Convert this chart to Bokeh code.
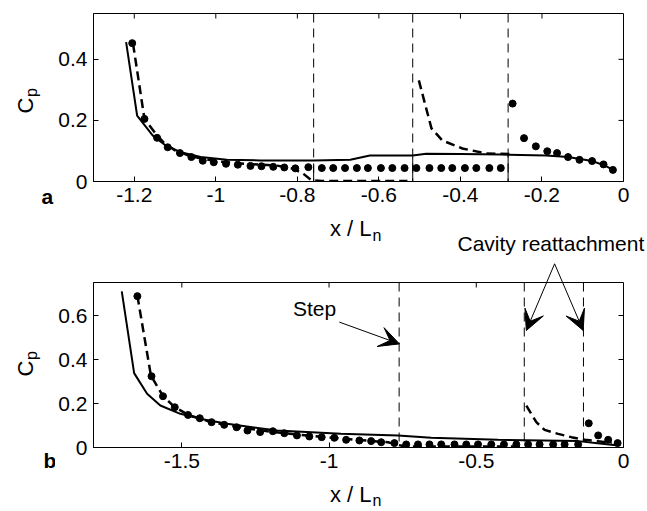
import math
from bokeh.plotting import figure
from bokeh.layouts import column, row
from bokeh.models import Range1d, FixedTicker, Label, Arrow, VeeHead, Span
from bokeh.embed import file_html
from bokeh.resources import INLINE

FONT = "Liberation Sans"
TICK_FS = "21px"
LAB_FS = "22px"
SUB_FS = "16px"
TICK_LEN = 5  # px, inward ticks

# ---------------- panel a data ----------------
a_xrange = (-1.3, 0)
a_yrange = (0, 0.55)
a_xticks = [-1.2, -1, -0.8, -0.6, -0.4, -0.2, 0]
a_xlabels = ["-1.2", "-1", "-0.8", "-0.6", "-0.4", "-0.2", "0"]
a_yticks = [0, 0.2, 0.4]
a_ylabels = ["0", "0.2", "0.4"]

a_solid_x = [-1.220, -1.193, -1.155, -1.123, -1.086, -1.037, -0.973, -0.891, -0.761, -0.670,
             -0.622, -0.517, -0.484, -0.400, -0.300, -0.190, -0.136, -0.077, -0.045, -0.026]
a_solid_y = [0.456, 0.216, 0.151, 0.118, 0.096, 0.080, 0.071, 0.069, 0.069, 0.071,
             0.085, 0.085, 0.091, 0.090, 0.088, 0.085, 0.080, 0.067, 0.052, 0.038]

a_dash1_x = [-1.203, -1.175, -1.147, -1.127, -1.100, -1.060, -1.000, -0.930, -0.850, -0.810,
             -0.785, -0.765, -0.740, -0.530]
a_dash1_y = [0.451, 0.205, 0.156, 0.126, 0.102, 0.082, 0.066, 0.058, 0.052, 0.042,
             0.025, 0.004, 0.002, 0.002]
a_dash2_x = [-0.502, -0.471, -0.444, -0.395, -0.337, -0.280]
a_dash2_y = [0.331, 0.174, 0.134, 0.108, 0.092, 0.090]

a_dot_x = [-1.205, -1.175, -1.144, -1.118, -1.088, -1.060, -1.032, -1.005, -0.975, -0.946,
           -0.915, -0.888, -0.859, -0.832, -0.805, -0.773,
           -0.740, -0.712, -0.683, -0.654, -0.627, -0.595, -0.567, -0.537, -0.508, -0.476,
           -0.447, -0.420, -0.389, -0.361, -0.329, -0.301,
           -0.272, -0.244, -0.215, -0.187, -0.163, -0.136, -0.108, -0.077, -0.049, -0.026]
a_dot_y = [0.453, 0.205, 0.143, 0.112, 0.093, 0.080, 0.068, 0.063, 0.058, 0.055,
           0.051, 0.050, 0.048, 0.046, 0.043, 0.047,
           0.044, 0.044, 0.044, 0.044, 0.044, 0.044, 0.044, 0.044, 0.044, 0.044,
           0.044, 0.044, 0.044, 0.044, 0.044, 0.044,
           0.255, 0.142, 0.115, 0.099, 0.093, 0.080, 0.071, 0.067, 0.056, 0.038]

a_lines = [-0.760, -0.517, -0.283]
a_wall_h = [0.055, 0.080, 0.090]

# ---------------- panel b data ----------------
b_xrange = (-1.8, 0)
b_yrange = (0, 0.75)
b_xticks = [-1.5, -1, -0.5, 0]
b_xlabels = ["-1.5", "-1", "-0.5", "0"]
b_yticks = [0, 0.2, 0.4, 0.6]
b_ylabels = ["0", "0.2", "0.4", "0.6"]

b_solid_x = [-1.704, -1.662, -1.618, -1.573, -1.505, -1.430, -1.346, -1.176, -0.960, -0.850,
             -0.766, -0.653, -0.426, -0.154, -0.080, -0.018]
b_solid_y = [0.710, 0.338, 0.244, 0.191, 0.153, 0.128, 0.108, 0.077, 0.062, 0.058,
             0.055, 0.044, 0.035, 0.029, 0.018, 0.009]

b_dash1_x = [-1.651, -1.605, -1.564, -1.526, -1.481, -1.400, -1.300, -1.200, -1.100, -1.000,
             -0.900, -0.800, -0.760, -0.740, -0.340]
b_dash1_y = [0.690, 0.327, 0.233, 0.186, 0.150, 0.115, 0.092, 0.072, 0.058, 0.046,
             0.034, 0.024, 0.010, 0.005, 0.005]
b_dash2_x = [-0.330, -0.296, -0.268, -0.222, -0.177, -0.131, -0.080, -0.040]
b_dash2_y = [0.190, 0.115, 0.080, 0.062, 0.047, 0.035, 0.027, 0.020]

b_dot_x = [-1.651, -1.603, -1.564, -1.524, -1.479, -1.439, -1.399, -1.356, -1.314, -1.277,
           -1.234, -1.191, -1.152, -1.109, -1.067, -1.025,
           -0.982, -0.942, -0.897, -0.857, -0.823, -0.778,
           -0.738, -0.698, -0.659, -0.619, -0.574, -0.534, -0.494, -0.449, -0.406, -0.364,
           -0.324, -0.285, -0.239, -0.200, -0.154,
           -0.118, -0.086, -0.052, -0.020]
b_dot_y = [0.688, 0.324, 0.233, 0.183, 0.148, 0.133, 0.115, 0.103, 0.092, 0.077,
           0.070, 0.074, 0.065, 0.055, 0.050, 0.047,
           0.044, 0.035, 0.032, 0.029, 0.024, 0.020,
           0.014, 0.014, 0.014, 0.014, 0.014, 0.014, 0.014, 0.014, 0.014, 0.014,
           0.014, 0.014, 0.014, 0.014, 0.014,
           0.110, 0.055, 0.035, 0.020]

b_lines = [-0.762, -0.337, -0.136]

# annotation anchors (panel b data units)
step_label = (-1.1224, 0.633)
step_arrow = (-0.965, 0.570, -0.761, 0.471)
cavity_apex = (-0.234, 0.835)
cavity_tips = [(-0.330, 0.532), (-0.137, 0.532)]

# ---------------- layout geometry (px) ----------------
STRIP_W = 55
MAIN_W = 592
BORDER_L, BORDER_R = 38, 24
FRAME_W = MAIN_W - BORDER_L - BORDER_R          # 530
A_TOP, A_FRAME_H, A_BOTTOM = 13, 168, 34
B_TOP, B_FRAME_H, B_BOTTOM = 0, 165, 32
BAND_H = 67
FOOT_H = 31
A_H = A_TOP + A_FRAME_H + A_BOTTOM
B_H = B_TOP + B_FRAME_H + B_BOTTOM
BAND_Y0 = A_H
B_Y0 = BAND_Y0 + BAND_H
FOOT_Y0 = B_Y0 + B_H
TOTAL_H = FOOT_Y0 + FOOT_H


def style_axis(ax, ticks, labels):
    ax.ticker = FixedTicker(ticks=ticks)
    ax.major_label_overrides = {t: l for t, l in zip(ticks, labels)}
    ax.axis_line_color = "black"
    ax.axis_line_width = 1
    ax.major_tick_in = TICK_LEN
    ax.major_tick_out = 0
    ax.major_tick_line_color = "black"
    ax.minor_tick_in = 0
    ax.minor_tick_out = 0
    ax.minor_tick_line_color = None
    ax.major_label_text_font = FONT
    ax.major_label_text_font_size = TICK_FS
    ax.major_label_text_color = "black"
    ax.major_label_standoff = 6


def make_fig(top, frame_h, bottom, xr, yr, xt, xl, yt, yl):
    p = figure(width=MAIN_W, height=top + frame_h + bottom,
               x_range=Range1d(*xr), y_range=Range1d(*yr),
               output_backend="svg", toolbar_location=None,
               min_border_left=BORDER_L, min_border_right=BORDER_R,
               min_border_top=top, min_border_bottom=bottom)
    p.title.visible = False
    p.xgrid.visible = False
    p.ygrid.visible = False
    p.outline_line_color = "black"
    p.outline_line_alpha = 1
    p.background_fill_color = "white"
    p.border_fill_color = "white"
    style_axis(p.xaxis[0], xt, xl)
    style_axis(p.yaxis[0], yt, yl)
    # inward ticks on the top and right edges of the box
    dy = TICK_LEN * (yr[1] - yr[0]) / frame_h
    dx = TICK_LEN * (xr[1] - xr[0]) / FRAME_W
    tx = [t for t in xt if xr[0] < t < xr[1]]
    ty = [t for t in yt if yr[0] < t < yr[1]]
    p.segment(x0=tx, y0=[yr[1]] * len(tx), x1=tx, y1=[yr[1] - dy] * len(tx),
              line_color="black", line_width=1)
    p.segment(x0=[xr[1]] * len(ty), y0=ty, x1=[xr[1] - dx] * len(ty), y1=ty,
              line_color="black", line_width=1)
    return p


def text_canvas(x0, y0, w, h):
    # a bare canvas whose data coordinates are page pixels (y downward)
    f = figure(width=w, height=h, x_range=Range1d(x0, x0 + w), y_range=Range1d(y0 + h, y0),
               output_backend="svg", toolbar_location=None,
               x_axis_type=None, y_axis_type=None, min_border=0)
    f.title.visible = False
    f.outline_line_color = None
    f.background_fill_color = "white"
    f.border_fill_color = "white"
    return f


def txt(p, x, y, text, size, align="left", angle=0.0, bold=False):
    p.add_layout(Label(x=x, y=y, text=text,
                       text_font=FONT, text_font_size=size, text_color="black",
                       text_align=align, text_baseline="middle", angle=angle,
                       text_font_style="bold" if bold else "normal"))


def arrow(p, x0, y0, x1, y1):
    p.add_layout(Arrow(end=VeeHead(size=20, fill_color="black", line_color="black", line_width=1),
                       x_start=x0, y_start=y0, x_end=x1, y_end=y1,
                       line_color="black", line_width=1))


# ---------------- figure a ----------------
pa = make_fig(A_TOP, A_FRAME_H, A_BOTTOM, a_xrange, a_yrange,
              a_xticks, a_xlabels, a_yticks, a_ylabels)
for xv in a_lines:
    pa.add_layout(Span(location=xv, dimension="height", line_color="black",
                       line_width=1, line_dash="9 6"))
pa.segment(x0=a_lines, y0=[0] * len(a_lines), x1=a_lines, y1=a_wall_h,
           line_color="black", line_width=1)
pa.line(a_solid_x, a_solid_y, line_color="black", line_width=2)
pa.line(a_dash1_x, a_dash1_y, line_color="black", line_width=2.5, line_dash="9 5")
pa.line(a_dash2_x, a_dash2_y, line_color="black", line_width=2.5, line_dash="9 5")
pa.scatter(a_dot_x, a_dot_y, size=7, marker="circle", fill_color="black", line_color="black")

# ---------------- figure b ----------------
pb = make_fig(B_TOP, B_FRAME_H, B_BOTTOM, b_xrange, b_yrange,
              b_xticks, b_xlabels, b_yticks, b_ylabels)
for xv in b_lines:
    pb.add_layout(Span(location=xv, dimension="height", line_color="black",
                       line_width=1, line_dash="9 6"))
pb.line(b_solid_x, b_solid_y, line_color="black", line_width=2)
pb.line(b_dash1_x, b_dash1_y, line_color="black", line_width=2.5, line_dash="9 5")
pb.line(b_dash2_x, b_dash2_y, line_color="black", line_width=2.5, line_dash="9 5")
pb.scatter(b_dot_x, b_dot_y, size=7, marker="circle", fill_color="black", line_color="black")

txt(pb, step_label[0], step_label[1], "Step", "21px")
arrow(pb, *step_arrow)

# cavity arrows: part inside panel b's box drawn there, part above drawn in the band
ytop = b_yrange[1]
split_pts = []
for tx_, ty_ in cavity_tips:
    t = (cavity_apex[1] - ytop) / (cavity_apex[1] - ty_)
    xs = cavity_apex[0] + t * (tx_ - cavity_apex[0])
    split_pts.append(xs)
    arrow(pb, xs, ytop, tx_, ty_)


def b_to_page(x, y):
    px = STRIP_W + BORDER_L + (x - b_xrange[0]) / (b_xrange[1] - b_xrange[0]) * FRAME_W
    py = B_Y0 + B_TOP + (b_yrange[1] - y) / (b_yrange[1] - b_yrange[0]) * B_FRAME_H
    return px, py


# ---------------- text canvases (page pixel coordinates) ----------------
strip = text_canvas(0, 0, STRIP_W, TOTAL_H)
txt(strip, 25, 105, "C", LAB_FS, align="center", angle=math.pi / 2)
txt(strip, 31, 92, "p", SUB_FS, align="center", angle=math.pi / 2)
txt(strip, 41, 196, "a", "21px", bold=True)
txt(strip, 25, 368, "C", LAB_FS, align="center", angle=math.pi / 2)
txt(strip, 31, 355, "p", SUB_FS, align="center", angle=math.pi / 2)
txt(strip, 43, 460, "b", "21px", bold=True)

band = text_canvas(STRIP_W, BAND_Y0, MAIN_W, BAND_H)
txt(band, 371, 227.5, "x / L", LAB_FS, align="right")
txt(band, 372, 234.5, "n", SUB_FS, align="left")
txt(band, 457, 243, "Cavity reattachment", "21px")
ax0, ay0 = b_to_page(*cavity_apex)
for xs in split_pts:
    bx, by = b_to_page(xs, ytop)
    band.segment(x0=[ax0], y0=[ay0], x1=[bx], y1=[by], line_color="black", line_width=1)

foot = text_canvas(STRIP_W, FOOT_Y0, MAIN_W, FOOT_H)
txt(foot, 371, 494, "x / L", LAB_FS, align="right")
txt(foot, 372, 500, "n", SUB_FS, align="left")

right_col = column(row(pa, spacing=0), band, row(pb, spacing=0), foot, spacing=0)
layout = row(strip, right_col, spacing=0)
open("out.html", "w").write(file_html(layout, INLINE))
